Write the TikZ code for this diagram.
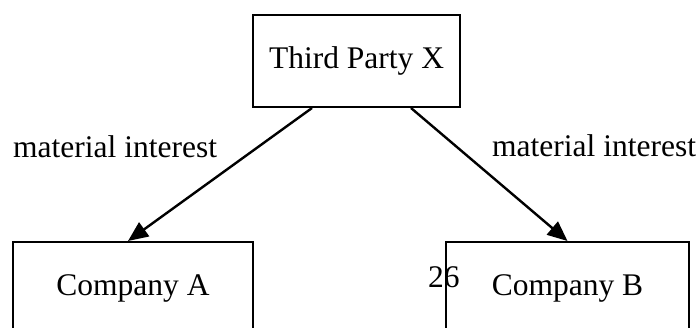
\documentclass[tikz,border=0pt]{standalone}
\usepackage{fontspec}
\setmainfont{Liberation Serif}
\usetikzlibrary{arrows.meta,calc}
\begin{document}
\begin{tikzpicture}[x=1pt,y=-1pt,
  every node/.style={font=\fontsize{31.5}{36}\selectfont},
  box/.style={draw=black,line width=2pt,inner sep=0pt,minimum width=#1},
  lbl/.style={inner sep=0pt,anchor=base west},
  conn/.style={line width=2.4pt,-{Triangle[length=20pt,width=17pt]}}]
\useasboundingbox (0,0) rectangle (699,327);
\clip (0,0) rectangle (699,327);
\node[box=207pt,minimum height=92pt] (X) at (356.5,61) {Third Party X};
\node[box=240pt,minimum height=93pt] (A) at (133,288.5) {Company A};
\node[box=243pt,minimum height=93pt] (B) at (567.5,288.5) {Company B};
\node[lbl] (L1) at (13,157) {material interest};
\node[lbl] (L2) at (492,156) {material interest};
\node[lbl] (P) at (428,287) {26};
\draw[conn] ($(X.south)+(-44.5,0)$) -- ($(A.north)+(-5,0)$);
\draw[conn] ($(X.south)+(54.5,0)$) -- ($(B.north)+(0,0)$);
\end{tikzpicture}
\end{document}
